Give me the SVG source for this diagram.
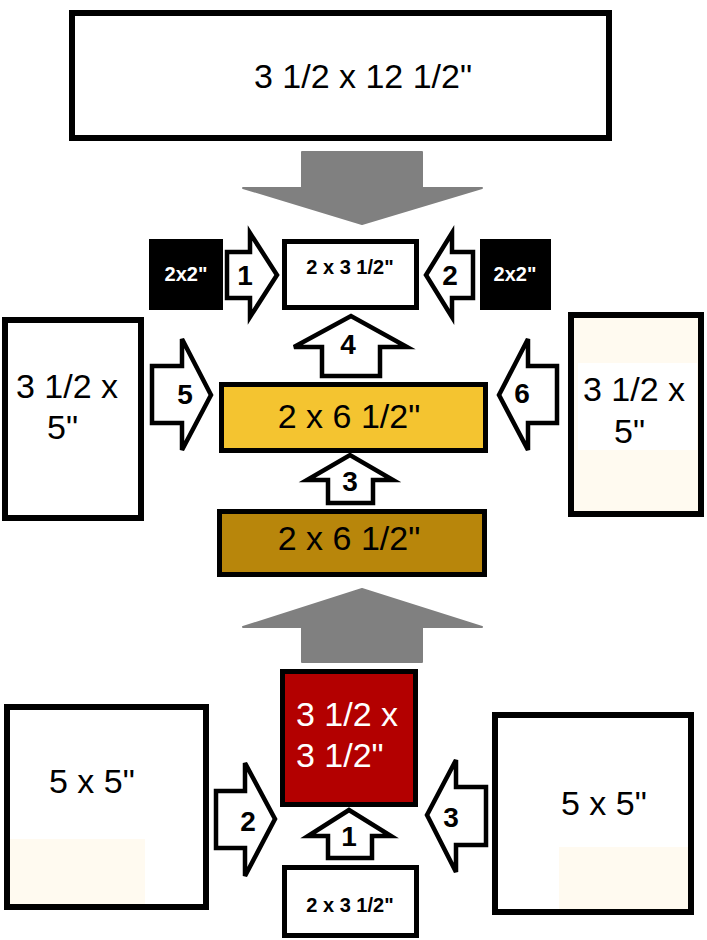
<svg xmlns="http://www.w3.org/2000/svg" width="707" height="940" viewBox="0 0 707 940">
<style>
.box{stroke:#000;stroke-width:6;}
.thin{stroke:#000;stroke-width:5;}
.arr{fill:#fff;stroke:#000;stroke-width:4.5;stroke-linejoin:miter;}
.gray{fill:#808080;stroke:#808080;stroke-width:2;stroke-linejoin:round;}
.big{font-family:"Liberation Sans",Arial,sans-serif;font-size:34px;fill:#000;}
.bigw{font-family:"Liberation Sans",Arial,sans-serif;font-size:34px;fill:#fff;}
.num{font-family:"Liberation Sans",Arial,sans-serif;font-size:28px;font-weight:bold;fill:#000;text-anchor:middle;}
.small{font-family:"Liberation Sans",Arial,sans-serif;font-size:20px;font-weight:bold;text-anchor:middle;}
</style>
<rect width="707" height="940" fill="#fff"/>

<g id="top-strip">
<rect class="box" x="72" y="13" width="537" height="125" fill="#fff"/>
<text class="big" x="363" y="88" text-anchor="middle" font-size="36">3 1/2 x 12 1/2"</text>
</g>

<g id="sq-left">
<rect x="149" y="239" width="74" height="71" fill="#000"/>
<text class="small" x="186" y="281" fill="#fff">2x2"</text>
</g>

<g id="rect-top">
<rect class="thin" x="284.5" y="241.5" width="132" height="66" fill="#fff"/>
<text class="small" x="350" y="274" fill="#000">2 x 3 1/2"</text>
</g>

<g id="sq-right">
<rect x="480" y="239" width="71" height="71" fill="#000"/>
<text class="small" x="515" y="281" fill="#fff">2x2"</text>
</g>

<g id="side-left">
<rect class="box" x="5" y="320" width="136" height="198" fill="#fff"/>
<text class="big" x="16" y="398">3 1/2 x</text>
<text class="big" x="47" y="439">5"</text>
</g>

<g id="side-right">
<rect class="box" x="571" y="315" width="130" height="199" fill="#fffaf0"/>
<rect x="578" y="363" width="119" height="87" fill="#fff"/>
<text class="big" x="583" y="401">3 1/2 x</text>
<text class="big" x="614" y="443">5"</text>
</g>

<g id="strip-yellow">
<rect class="thin" x="221.5" y="384.5" width="264" height="66" fill="#f4c430"/>
<text class="big" x="349" y="428" text-anchor="middle">2 x 6 1/2"</text>
</g>

<g id="strip-gold">
<rect class="thin" x="219.5" y="511.5" width="265" height="63" fill="#b8860b"/>
<text class="big" x="349" y="550" text-anchor="middle">2 x 6 1/2"</text>
</g>

<g id="center-red">
<rect class="thin" x="282.5" y="671.5" width="133" height="133" fill="#b30000"/>
<text class="bigw" x="296" y="726">3 1/2 x</text>
<text class="bigw" x="296" y="767">3 1/2"</text>
</g>

<g id="corner-left">
<rect class="box" x="7" y="707" width="199" height="200" fill="#fff"/>
<rect x="10" y="839" width="135" height="65" fill="#fffaf0"/>
<text class="big" x="49" y="793">5 x 5"</text>
</g>

<g id="corner-right">
<rect class="box" x="495" y="715" width="196" height="197" fill="#fff"/>
<rect x="559" y="847" width="129" height="62" fill="#fffaf0"/>
<text class="big" x="561" y="815">5 x 5"</text>
</g>

<g id="rect-bottom">
<rect class="thin" x="284.5" y="867.5" width="132" height="68" fill="#fff"/>
<text class="small" x="350" y="912" fill="#000">2 x 3 1/2"</text>
</g>

<g id="connectors">
<polygon class="gray" points="302,152 422,152 422,188 482,188 362,224 243,188 302,188"/>
<polygon class="gray" points="302,662 422,662 422,627 482,627 362,589 243,627 302,627"/>

<polygon class="arr" points="227,252 250,252 250,233 277,275 250,317 250,298 227,298"/>
<text class="num" x="245" y="285" font-weight="normal">1</text>
<polygon class="arr" points="473,252 452,252 452,233 426,275 452,317 452,298 473,298"/>
<text class="num" x="450" y="285" font-weight="normal">2</text>

<polygon class="arr" points="322,376 322,347 294,347 351,316 407,347 380,347 380,376"/>
<text class="num" x="348" y="354">4</text>

<polygon class="arr" points="152,366 182,366 182,339 211,395 182,450 182,423 152,423"/>
<text class="num" x="185" y="404">5</text>
<polygon class="arr" points="557,366 528,366 528,339 499,395 528,450 528,423 557,423"/>
<text class="num" x="522" y="403" font-size="25">6</text>

<polygon class="arr" points="328,503 328,480 307,480 350,455 393,480 373,480 373,503"/>
<text class="num" x="350" y="491">3</text>

<polygon class="arr" points="216,791 245,791 245,763 275,819 245,876 245,848 216,848"/>
<text class="num" x="248" y="831">2</text>
<polygon class="arr" points="486,787 456,787 456,760 427,815 456,872 456,845 486,845"/>
<text class="num" x="451" y="827">3</text>
<polygon class="arr" points="328,858 328,836 308,836 349,810 391,836 372,836 372,858"/>
<text class="num" x="349" y="846" font-weight="normal">1</text>
</g>
</svg>
